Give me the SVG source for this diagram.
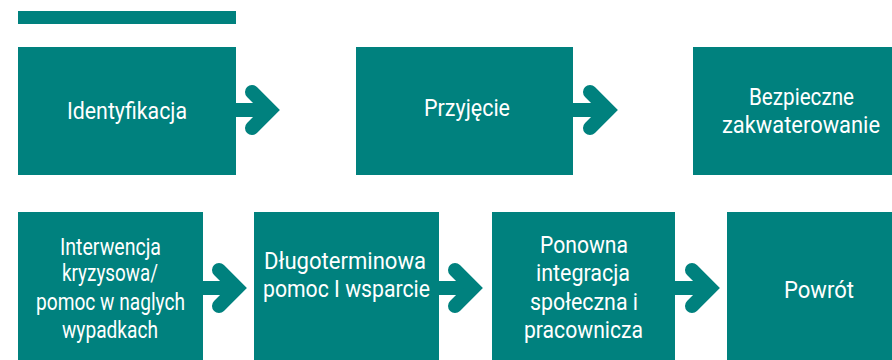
<svg xmlns="http://www.w3.org/2000/svg" width="892" height="360" viewBox="0 0 892 360">
<defs>
<style>
.box{fill:#00817e}
.t{fill:#fff;font-family:Roboto,"Liberation Sans",sans-serif;font-size:24px;text-anchor:middle}
.arr{fill:none;stroke:#00817e;stroke-width:14;stroke-linecap:round;stroke-linejoin:miter}
.shaft{fill:none;stroke:#00817e;stroke-width:14}
</style>
</defs>
<rect class="box" x="18" y="11" width="218" height="13"/>
<g id="identyfikacja"><rect class="box" x="18" y="47" width="218" height="128"/><text class="t" x="127" y="119" textLength="120" lengthAdjust="spacingAndGlyphs">Identyfikacja</text></g>
<g id="przyjecie"><rect class="box" x="356" y="47" width="217" height="128"/><text class="t" x="467" y="116" textLength="86" lengthAdjust="spacingAndGlyphs">Przyjęcie</text></g>
<g id="bezpieczne"><rect class="box" x="693" y="47" width="199" height="128"/><text class="t" x="801.5" y="105" textLength="105" lengthAdjust="spacingAndGlyphs">Bezpieczne</text><text class="t" x="801" y="133" textLength="158" lengthAdjust="spacingAndGlyphs">zakwaterowanie</text></g>
<g id="interwencja"><rect class="box" x="18" y="212" width="185" height="148"/><text class="t" x="110.5" y="255" textLength="101" lengthAdjust="spacingAndGlyphs">Interwencja</text><text class="t" x="110" y="281" textLength="96" lengthAdjust="spacingAndGlyphs">kryzysowa/</text><text class="t" x="110.5" y="310" textLength="149" lengthAdjust="spacingAndGlyphs">pomoc w naglych</text><text class="t" x="110" y="338" textLength="96" lengthAdjust="spacingAndGlyphs">wypadkach</text></g>
<g id="dlugoterminowa"><rect class="box" x="254" y="212" width="185" height="148"/><text class="t" x="345" y="269" textLength="162" lengthAdjust="spacingAndGlyphs">Długoterminowa</text><text class="t" x="346.5" y="297" textLength="167" lengthAdjust="spacingAndGlyphs">pomoc I wsparcie</text></g>
<g id="ponowna"><rect class="box" x="492" y="212" width="183" height="148"/><text class="t" x="584" y="253" textLength="88" lengthAdjust="spacingAndGlyphs">Ponowna</text><text class="t" x="583" y="281" textLength="94" lengthAdjust="spacingAndGlyphs">integracja</text><text class="t" x="584" y="310" textLength="108" lengthAdjust="spacingAndGlyphs">społeczna i</text><text class="t" x="583.5" y="338" textLength="119" lengthAdjust="spacingAndGlyphs">pracownicza</text></g>
<g id="powrot"><rect class="box" x="727" y="212" width="165" height="148"/><text class="t" x="819" y="298" textLength="70" lengthAdjust="spacingAndGlyphs">Powrót</text></g>
<g id="connectors">
<path class="shaft" d="M236 110H268"/><path class="arr" d="M252 92L270 110L252 128"/>
<path class="shaft" d="M573 110H606"/><path class="arr" d="M590 92L608 110L590 128"/>
<path class="shaft" d="M203 288H235"/><path class="arr" d="M219 270L237 288L219 306"/>
<path class="shaft" d="M439 288H471"/><path class="arr" d="M455 270L473 288L455 306"/>
<path class="shaft" d="M675 288H708"/><path class="arr" d="M692 270L710 288L692 306"/>
</g>
</svg>
